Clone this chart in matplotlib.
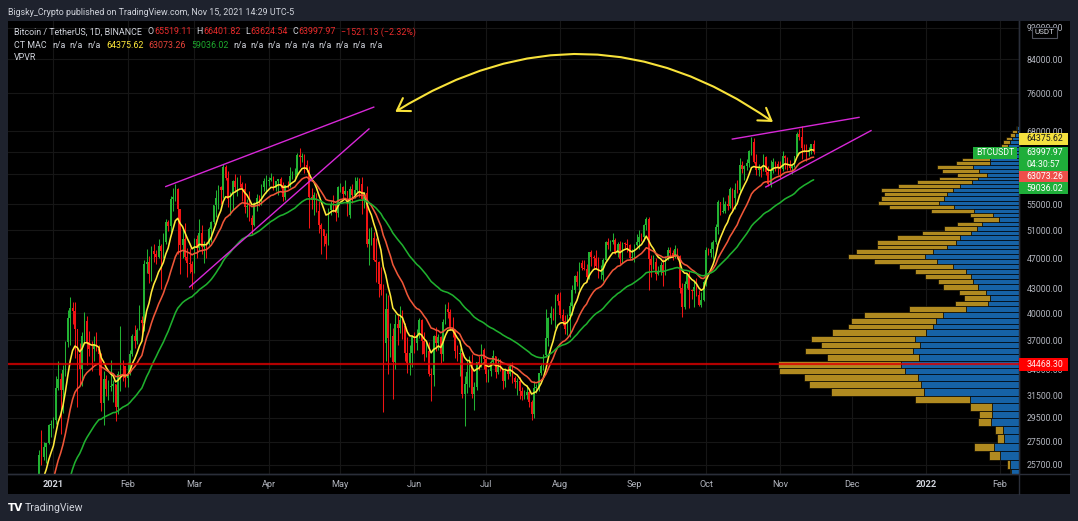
import numpy as np
import pandas as pd
import matplotlib
matplotlib.use("Agg")
import matplotlib.pyplot as plt
import matplotlib.dates as mdates
import matplotlib.ticker as mticker
from matplotlib.patches import Rectangle
from matplotlib.lines import Line2D

# ---------------------------------------------------------------- data
# daily closes before the visible range (used to warm up the moving averages)
warmup_start = "2020-10-01"
warmup_close = [
    10619, 10570, 10542, 10666, 10793, 10604, 10668, 10915, 11064, 11296, 11384, 11555, 11426, 11429, 11506, 11319,
    11360, 11503, 11751, 11910, 12780, 12968, 12923, 13110, 13031, 13071, 13639, 13272, 13456, 13561, 13792,
    13737, 13550, 14023, 14144, 15590, 15579, 14818, 15475, 15328, 15297, 15701, 16276, 16317, 16068, 15955,
    16716, 17645, 17804, 17817, 18621, 18642, 18370, 18364, 19107, 18732, 17150, 17139, 17719, 18185, 19695,
    18765, 19204, 19421, 18650, 19148, 19359, 19166, 18324, 18541, 18254, 18036, 18808,
]

# BTCUSDT daily candles, 2020-12-13 .. 2021-11-15 (open = previous close)
candle_start = "2020-12-13"
close = [
    19175, 19274, 19427, 21335, 22797, 23107, 23821, 23455, 22719, 23810, 23232, 23729, 24712, 26493, 26281, 27079, 27385, 28875, 28924,
    29331, 32178, 33000, 31988, 33950, 36770, 39406, 40670, 40240, 38240, 35545, 34012, 37393, 39158, 36770, 36007, 35994, 36587, 36024, 35547, 30825, 33005, 32067, 32289, 32366, 32569, 30432, 33466, 34316, 34269, 33114,
    33537, 35510, 37472, 36926, 38144, 39266, 38903, 46196, 46481, 44918, 47909, 47504, 47105, 48717, 47945, 49199, 52149, 51679, 55888, 56099, 57539, 54207, 48824, 49705, 47093, 46339, 46188, 45137,
    49631, 48378, 50538, 48561, 48927, 48912, 51206, 52246, 54824, 56008, 57805, 57332, 61243, 59302, 55907, 56804, 58870, 57859, 58346, 58313, 57523, 54529, 54738, 52774, 51704, 55137, 55974, 55947, 57750, 58917, 58918,
    59095, 59384, 57604, 58760, 59171, 58186, 56100, 58102, 58096, 59778, 59838, 59903, 63503, 63110, 63314, 61572, 60683, 56216, 55724, 56473, 53906, 51763, 51093, 50050, 49004, 54021, 55033, 54824, 53555, 57750,
    57828, 56610, 57213, 53241, 57473, 56428, 57380, 58928, 58280, 55883, 56750, 49007, 49716, 49880, 46760, 46457, 43538, 42850, 36690, 40526, 37252, 37449, 34655, 38796, 38325, 39241, 38529, 35664, 34616, 35678, 37333,
    36693, 37569, 39249, 36857, 35520, 35797, 33552, 33380, 37388, 36675, 37331, 35546, 39020, 40516, 40144, 38349, 38092, 35819, 35484, 35601, 31608, 32509, 33678, 34663, 31594, 32283, 34700, 34494, 35911, 35045,
    33504, 33786, 34669, 35287, 33690, 34220, 33863, 32875, 33815, 33502, 34259, 33086, 32729, 32820, 31880, 31383, 31520, 31778, 30839, 29790, 32144, 32287, 33634, 34258, 35425, 37269, 39456, 40019, 40016, 42206, 41461,
    39845, 39147, 38207, 39723, 40868, 42836, 44614, 43822, 46285, 45595, 45555, 44428, 47793, 47096, 47019, 45936, 44686, 44709, 46760, 49322, 48821, 49239, 49503, 47680, 48973, 46843, 49069, 48895, 48767, 46970, 47100,
    48810, 49246, 49999, 49915, 51756, 52663, 46863, 46048, 46395, 44850, 45173, 46026, 44940, 47111, 48121, 47737, 47299, 48293, 47241, 43015, 40734, 43543, 44865, 42810, 42670, 43160, 42147, 41026, 41524, 43824,
    48141, 47634, 48200, 49224, 51471, 55315, 53785, 53951, 54949, 54659, 57471, 56005, 57367, 57347, 61672, 60875, 61528, 62009, 64280, 66001, 62193, 60688, 61286, 60852, 63078, 60328, 58413, 60575, 62253, 61859, 61318,
    61004, 63226, 62970, 61452, 61125, 61527, 63326, 67566, 66947, 64882, 64774, 64122, 64380, 65519.11, 63997.97,
]
high = [
    19411, 19349, 19570, 21560, 23800, 23285, 24171, 24295, 24102, 23837, 24145, 23794, 24789, 26867, 28422, 27500, 27410, 28996, 29300,
    29600, 33300, 34778, 33600, 34360, 36939, 40365, 41950, 41380, 41350, 38264, 36628, 37850, 40100, 39700, 37950, 36852, 37469, 37850, 36415, 35600, 33826, 33456, 32944, 34875, 32921, 32557, 33783, 38531, 34934, 34288,
    34717, 35984, 37662, 38708, 38310, 40955, 39700, 46794, 48200, 47310, 48678, 48985, 48150, 49707, 49010, 50600, 52618, 52530, 56368, 57700, 58352, 57580, 54183, 51374, 52041, 48370, 48394, 46638,
    49790, 50200, 52640, 51773, 49448, 49200, 51450, 52402, 54900, 57387, 58150, 58058, 61844, 61724, 60633, 56938, 58981, 60129, 59468, 59880, 58627, 58430, 55830, 57200, 53237, 55274, 56640, 56559, 58405, 59368, 59800,
    59490, 60200, 59791, 58913, 59272, 59496, 58650, 58153, 58894, 61218, 60659, 61199, 63774, 64854, 63821, 63594, 62572, 61436, 57600, 57000, 56757, 55521, 52120, 51166, 50567, 54356, 55460, 56428, 55195, 57963,
    58458, 57937, 58981, 57214, 57911, 58360, 59500, 59464, 59300, 59592, 57000, 58000, 51367, 51483, 50700, 49800, 46643, 45800, 43546, 42451, 42200, 38829, 38270, 39920, 39791, 40900, 40411, 38856, 37338, 36488, 37499,
    37894, 38225, 39476, 39289, 37917, 36790, 36810, 34068, 37534, 38400, 37680, 37437, 39380, 41064, 41330, 40527, 39559, 38200, 36457, 36137, 35750, 33298, 34881, 35298, 35500, 32730, 34749, 35297, 36600, 36100,
    35100, 33977, 34945, 35967, 35293, 35118, 35059, 33929, 34100, 34262, 34592, 34679, 33340, 33114, 33185, 32249, 31949, 32435, 31899, 31063, 32858, 32591, 33650, 34500, 35500, 40550, 39542, 40900, 40640, 42316, 42448,
    42599, 40459, 39780, 39969, 41350, 43392, 44700, 45310, 46454, 46718, 46743, 46218, 47886, 48144, 47372, 48053, 47160, 46000, 47033, 49382, 49757, 49500, 50500, 49875, 49250, 49355, 49200, 49309, 49658, 48909, 48250,
    48900, 50392, 51000, 50558, 51900, 52920, 52920, 47380, 47400, 47040, 45987, 46460, 46880, 47250, 48500, 48500, 48150, 48843, 48372, 47359, 43639, 44000, 44978, 45200, 42966, 43950, 44350, 42787, 42590, 44141,
    48495, 48336, 49300, 49536, 51886, 55750, 55338, 56100, 55500, 56561, 57839, 57680, 58532, 58944, 62933, 62378, 61718, 62695, 64487, 67000, 66639, 63732, 61747, 61500, 63710, 63293, 61496, 62499, 62980, 62359, 62405,
    62437, 64270, 63516, 63086, 62600, 61560, 63286, 67789, 68530, 69000, 65600, 65460, 65000, 65550, 66401.82,
]
low = [
    18711, 19000, 19050, 19278, 21230, 22350, 22750, 23060, 21815, 22353, 22600, 22703, 23433, 24500, 25700, 26101, 25880, 27320, 27850,
    28624, 28946, 31962, 28130, 29900, 33288, 36300, 36500, 38720, 35111, 30420, 32531, 32380, 36701, 34408, 35357, 33850, 34800, 35844, 33400, 30071, 28850, 31390, 31106, 31910, 30837, 29241, 29842, 31915, 32825, 32270,
    32296, 33418, 35362, 36161, 36570, 38138, 37351, 37988, 45020, 43727, 43994, 46400, 46202, 47014, 42988, 47003, 48947, 50902, 50710, 53863, 55477, 47622, 44892, 47003, 46674, 44454, 45000, 43000,
    45000, 47047, 48100, 47500, 46300, 47070, 48878, 49274, 51845, 53005, 54269, 55013, 56078, 59020, 54600, 53271, 54123, 57023, 56270, 57820, 55450, 53650, 53000, 52419, 50427, 51579, 53966, 54691, 54901, 57168, 56873,
    57935, 58869, 57250, 57168, 56478, 57600, 55473, 55700, 57654, 57904, 59125, 59360, 59870, 61301, 62208, 60222, 60361, 51300, 54187, 53329, 53695, 50500, 47500, 48733, 46930, 48753, 53222, 53813, 52330, 53013,
    57052, 56044, 56435, 53057, 52900, 55200, 56000, 56975, 56235, 53400, 54441, 48600, 46000, 48868, 46650, 43825, 42001, 42250, 30000, 34850, 33488, 35200, 31111, 34031, 36419, 37800, 37134, 34779, 33632, 33379, 34153,
    35667, 35920, 37170, 35567, 34800, 35258, 33300, 31000, 32396, 35800, 35936, 34600, 34757, 38730, 39506, 38116, 37365, 35129, 34833, 33336, 31251, 28805, 31683, 32300, 31275, 30151, 32000, 33862, 34225, 34017,
    32711, 32699, 33316, 34357, 33125, 33532, 33770, 32077, 32261, 33004, 33332, 32658, 32202, 31550, 31133, 31020, 31179, 31108, 30407, 29278, 29482, 31708, 31924, 33401, 33881, 35205, 36383, 38772, 39200, 38313, 41000,
    39422, 38690, 37642, 37508, 37332, 39853, 42446, 43261, 42779, 45347, 45341, 43770, 44261, 45971, 45500, 45660, 44376, 44203, 43927, 46629, 48285, 48000, 49029, 47600, 47136, 46250, 46376, 48370, 47886, 46853, 46700,
    46512, 48630, 48316, 49400, 49450, 50969, 42843, 44412, 45513, 44140, 44722, 44742, 43370, 44750, 46700, 47020, 46750, 47044, 46829, 42500, 39600, 40565, 43069, 40675, 41646, 40750, 42098, 40888, 40753, 41410,
    43283, 47430, 47120, 46891, 49021, 50382, 53357, 53617, 53661, 54080, 54415, 53879, 54260, 56818, 56850, 60150, 58963, 60840, 61322, 63481, 62000, 59817, 59668, 59510, 60650, 59817, 58000, 57820, 60174, 60673, 59945,
    59405, 60624, 61000, 60677, 60721, 60050, 61322, 63300, 66382, 62822, 64100, 62333, 63360, 63576, 63624.54,
]

# "CT MAC" moving averages (EMA spans) and their last values as printed in the legend
ma_spans = [9, 21, 50]
ma_last = [64375.62, 63073.26, 59036.02]
last_change = -1521.13
last_change_pct = -2.32
countdown = "04:30:57"
symbol = "BTCUSDT"

# VPVR: visible range volume profile, rows listed from the top price down
vp_high = 69000.0
vp_low = 18711.15
vp_rows = 75
poc_price = 34468.30
vp_up = [1.2, 2.0, 3.7, 7.0, 8.7, 10.7, 14.7, 18.7, 21.7, 28.7,
         28.7, 45.7, 39.7, 32.0, 40.7, 47.0, 58.7, 65.7, 71.7, 74.7,
         79.7, 64.7, 44.7, 25.7, 20.0, 37.0, 42.0, 48.0, 58.7, 62.7,
         72.0, 86.0, 93.7, 81.7, 66.0, 52.7, 47.7, 45.7, 40.7, 32.7,
         28.7, 31.0, 53.0, 75.7, 82.7, 85.7, 92.7, 103.7, 98.7, 105.7,
         99.7, 117.4, 113.7, 100.7, 98.0, 94.7, 49.0, 26.7, 26.7, 27.7,
         15.7, 14.7, 25.0, 18.7, 8.7, 7.7, 10, 12, 14, 18,
         15, 12, 10, 8, 5]
vp_down = [1.5, 4.4, 5.0, 6.0, 7.3, 7.3, 12.0, 15.0, 17.0, 28.0,
           34.0, 36.3, 37.3, 29.7, 39.0, 55.0, 62.0, 72.0, 63.0, 63.3,
           61.0, 65.0, 43.3, 23.0, 25.7, 25.0, 33.0, 49.0, 63.3, 79.0,
           69.7, 76.7, 77.0, 63.0, 53.7, 51.0, 46.0, 35.3, 35.3, 27.3,
           26.0, 32.7, 57.0, 79.0, 85.0, 85.0, 94.3, 104.0, 99.0, 108.0,
           92.0, 123.6, 126.0, 114.0, 112.0, 93.0, 54.7, 22.3, 13.0, 13.0,
           8.3, 7.0, 19.7, 11.3, 3.0, 1.3, 6, 8, 10, 12,
           10, 8, 6, 5, 3]

# drawings (date, price)
trend_lines = [
    [("2021-02-17", 57900), ("2021-05-15", 73000)],
    [("2021-02-27", 43200), ("2021-05-13", 68500)],
    [("2021-10-12", 66500), ("2021-12-04", 70850)],
    [("2021-10-26", 57830), ("2021-12-09", 68160)],
]
arrow_left = ("2021-05-24", 72000)
arrow_right = ("2021-10-29", 69900)

price_ticks = [92000, 84000, 76000, 68000, 64000, 60000, 55000, 51000, 47000, 43000,
               40000, 37000, 34000, 31500, 29500, 27500, 25700]
month_starts = pd.date_range("2021-01-01", "2022-02-01", freq="MS")
month_labels = ["2021", "Feb", "Mar", "Apr", "May", "Jun", "Jul", "Aug", "Sep", "Oct",
                "Nov", "Dec", "2022", "Feb"]

header = "Bigsky_Crypto published on TradingView.com, Nov 15, 2021 14:29 UTC-5"

# ---------------------------------------------------------------- style
W, H, DPI = 1078, 521, 100
FONT = ["Roboto", "DejaVu Sans"]
plt.rcParams["font.family"] = FONT
BG_OUT = "#1e222d"
TXT = "#d1d4dc"
AX_TXT = "#b2b5be"
GRID = "#161616"
SEP = "#2a2e39"
C_UP = "#22b233"
C_DN = "#f01414"
MA_COLORS = ["#ffe93b", "#ef5638", "#1fb02e"]
MAGENTA = "#d728d7"
ARROW = "#f8e23a"
VP_BLUE = "#1662a6"
VP_GOLD = "#b08a20"
POC_RED = "#e00000"
FS = 6.3

# plot-area pixel frame
PL, PR, PT, PB = 8, 1018.7, 21, 474
AXR, AXB = 1070, 494


def fx(px):
    return px / W


def fy(py):
    return 1 - py / H


fig = plt.figure(figsize=(W / DPI, H / DPI), dpi=DPI, facecolor=BG_OUT)
fig.add_artist(Rectangle((fx(PL), fy(AXB)), (AXR - PL) / W, (AXB - PT) / H,
                         transform=fig.transFigure, facecolor="black", edgecolor="none", zorder=0))

ax = fig.add_axes([fx(PL), fy(PB), (PR - PL) / W, (PB - PT) / H])
ax.set_facecolor("black")

n = min(len(close), len(high), len(low))
c = np.array(close[:n], dtype=float)
hi = np.array(high[:n], dtype=float)
lo = np.array(low[:n], dtype=float)
o = np.concatenate([[warmup_close[-1]], c[:-1]])
dates = pd.date_range(candle_start, periods=n, freq="D")
xd = mdates.date2num(dates.to_pydatetime())

up = c >= o
for mask, col in ((up, C_UP), (~up, C_DN)):
    ax.vlines(xd[mask], lo[mask], hi[mask], color=col, lw=0.75, zorder=3)
    ax.bar(xd[mask], np.abs(c - o)[mask], bottom=np.minimum(o, c)[mask], width=0.68,
           color=col, linewidth=0, zorder=3)

all_close = pd.Series(list(warmup_close) + list(c))
for span, col in zip(ma_spans, MA_COLORS):
    ema = all_close.ewm(span=span, adjust=False).mean().values[-n:]
    ax.plot(xd, ema, color=col, lw=1.15, zorder=4, solid_capstyle="round")

for seg in trend_lines:
    xs = mdates.date2num([pd.Timestamp(d).to_pydatetime() for d, _ in seg])
    ys = [p for _, p in seg]
    ax.plot(xs, ys, color=MAGENTA, lw=1.0, zorder=5)

ax.annotate("", xy=(mdates.date2num(pd.Timestamp(arrow_right[0]).to_pydatetime()), arrow_right[1]),
            xytext=(mdates.date2num(pd.Timestamp(arrow_left[0]).to_pydatetime()), arrow_left[1]),
            xycoords="data", textcoords="data", annotation_clip=False,
            arrowprops=dict(arrowstyle="<->,head_length=0.85,head_width=0.55", mutation_scale=10,
                            connectionstyle="arc3,rad=-0.33", color=ARROW, lw=1.5,
                            shrinkA=0, shrinkB=0), zorder=6)

# axes, ticks, grid
ax.set_yscale("log")
ax.set_ylim(25030, 93850)
ax.set_xlim(mdates.date2num(pd.Timestamp("2020-12-13").to_pydatetime()),
            mdates.date2num(pd.Timestamp("2022-02-08 19:00").to_pydatetime()))
ax.yaxis.tick_right()
ax.yaxis.set_major_locator(mticker.FixedLocator(price_ticks))
ax.yaxis.set_minor_locator(mticker.NullLocator())
ax.yaxis.set_major_formatter(mticker.FuncFormatter(lambda v, p: f"{v:.2f}"))
ax.tick_params(axis="y", length=0, pad=5.8, labelsize=FS, labelcolor=AX_TXT)
ax.set_xticks(mdates.date2num(month_starts.to_pydatetime()))
ax.set_xticklabels(month_labels)
ax.tick_params(axis="x", length=0, pad=4.3, labelsize=6.6, labelcolor=AX_TXT)
for t in ax.get_xticklabels():
    if t.get_text() in ("2021", "2022"):
        t.set_fontweight("bold")
        t.set_color(TXT)
ax.set_axisbelow(True)
ax.grid(True, color=GRID, lw=0.8)
for sp in ("top", "left"):
    ax.spines[sp].set_visible(False)
for sp in ("right", "bottom"):
    ax.spines[sp].set_color(SEP)
    ax.spines[sp].set_linewidth(1.0)

# volume profile overlay, anchored at the right edge of the plot
axv = fig.add_axes([fx(PL), fy(PB), (PR - PL) / W, (PB - PT) / H], sharey=ax)
axv.patch.set_visible(False)
axv.axis("off")
vu = np.array(vp_up, dtype=float)
vd = np.array(vp_down, dtype=float)
row_h = (vp_high - vp_low) / vp_rows
row_top = vp_high - row_h * np.arange(vp_rows)
row_bot = row_top - row_h
axv.set_xlim((vu + vd).max() / 0.2385, 0)
axv.barh(row_bot, vu, height=row_h, left=0, align="edge", color=VP_BLUE, edgecolor="black", linewidth=0.45)
axv.barh(row_bot, vd, height=row_h, left=vu, align="edge", color=VP_GOLD, edgecolor="black", linewidth=0.45)
axv.axhline(poc_price, color=POC_RED, lw=1.6, alpha=0.8)
ax.set_ylim(25030, 93850)

# separators through the axis areas
fig.add_artist(Line2D([fx(PR), fx(PR)], [fy(PT), fy(AXB)], transform=fig.transFigure, color=SEP, lw=1, zorder=1))
fig.add_artist(Line2D([fx(PL), fx(AXR)], [fy(PB), fy(PB)], transform=fig.transFigure, color=SEP, lw=1, zorder=1))


def ypix(price):
    return H - ax.transData.transform((xd[0], price))[1]


def box(x0, x1, ytop, h, fc, ec="none"):
    fig.add_artist(Rectangle((fx(x0), fy(ytop + h)), (x1 - x0) / W, h / H, transform=fig.transFigure,
                             facecolor=fc, edgecolor=ec, lw=0.8, zorder=10))


def label(x, y, s, col, ha="left", fs=FS, weight="normal"):
    return fig.text(fx(x), fy(y), s, color=col, fontsize=fs, ha=ha, va="center", zorder=11,
                    fontweight=weight)


BX0, BX1, TX = PR, 1067.5, 1026.5
yc = ypix(c[-1])
g_top = yc - 5.5
box(BX0, BX1, g_top - 13.4, 11.3, "#f4e03e")
label(TX, g_top - 13.4 + 5.65, f"{ma_last[0]:.2f}", "#1a1a1a")
box(BX0, BX1, g_top, 24.0, "#1fae3a")
label(TX, g_top + 6.0, f"{c[-1]:.2f}", "white")
label(TX, g_top + 18.0, countdown, "white")
box(BX0, BX1, g_top + 24.0, 11.0, "#ef4f4a")
label(TX, g_top + 29.5, f"{ma_last[1]:.2f}", "white")
box(BX0, BX1, g_top + 35.0, 12.6, "#1fae3a")
label(TX, g_top + 41.3, f"{ma_last[2]:.2f}", "white")
box(973.3, 1016.7, g_top, 12.3, "#1fae3a")
label((973.3 + 1016.7) / 2, g_top + 6.15, symbol, "white", ha="center")
yp = ypix(poc_price)
box(BX0, BX1, yp - 6.2, 12.4, "#ff0000")
label(TX, yp, f"{poc_price:.2f}", "#ffe6e6")
box(1032, 1057, 27, 11, "black", ec="#50535e")
label(1044.5, 32.5, "USDT", TXT, ha="center", fs=5.9)

# header and legend rows, laid out token by token
renderer = fig.canvas.get_renderer()
t = fig.text(fx(7.5), fy(12.5), header, color=TXT, fontsize=10, ha="left", va="center")
w10 = t.get_window_extent(renderer=renderer).width
LFS = 10 * 288 / w10
t.set_fontsize(LFS)


def row(x0, y, tokens):
    x = x0
    for s, col, gap in tokens:
        x += gap
        tt = fig.text(fx(x), fy(y), s, color=col, fontsize=LFS, ha="left", va="center")
        x += tt.get_window_extent(renderer=renderer).width


RED_V = "#ea2b2b"
row(14, 32, [("Bitcoin / TetherUS, 1D, BINANCE", TXT, 0),
             ("O", TXT, 6), (f"{o[-1]:.2f}", RED_V, 0.5),
             ("H", TXT, 4.5), (f"{hi[-1]:.2f}", RED_V, 0.5),
             ("L", TXT, 4.5), (f"{lo[-1]:.2f}", RED_V, 0.5),
             ("C", TXT, 4.5), (f"{c[-1]:.2f}", RED_V, 0.5),
             (f"\u2212{abs(last_change):.2f} (\u2212{abs(last_change_pct):.2f}%)", RED_V, 5)])
tokens2 = [("CT MAC", TXT, 0)] + [("n/a", TXT, 5.5 if i == 0 else 4) for i in range(3)]
tokens2 += [(f"{ma_last[0]:.2f}", MA_COLORS[0], 6), (f"{ma_last[1]:.2f}", "#e8433a", 5),
            (f"{ma_last[2]:.2f}", "#1ea82e", 5)]
tokens2 += [("n/a", TXT, 5 if i == 0 else 3.6) for i in range(9)]
row(14, 45, tokens2)
row(14, 58, [("VPVR", TXT, 0)])

# footer logo
fig.text(fx(7.5), fy(508), "TV", color="white", fontsize=7.5, fontweight="bold", ha="left", va="center",
         family=["DejaVu Sans"])
fig.text(fx(25), fy(508), "TradingView", color=TXT, fontsize=7.6, ha="left", va="center")

fig.savefig("out.png", dpi=DPI, facecolor=fig.get_facecolor())
